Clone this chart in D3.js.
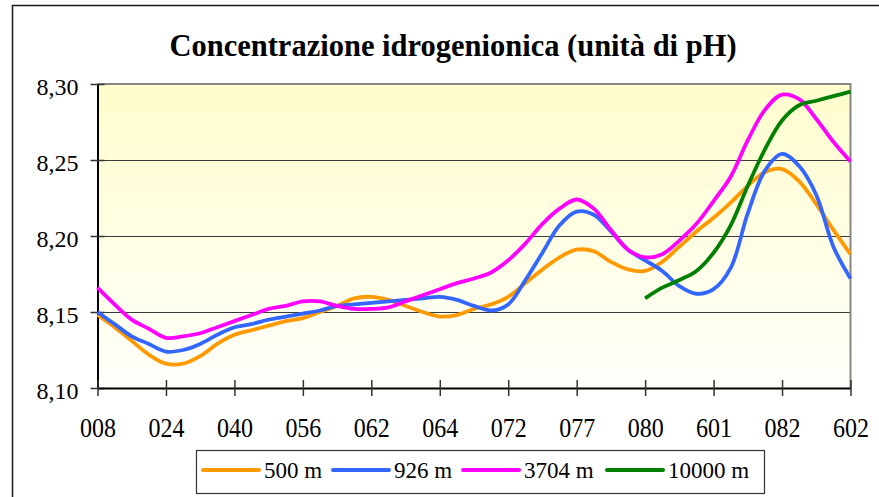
<!DOCTYPE html>
<html>
<head>
<meta charset="utf-8">
<script src="https://cdn.jsdelivr.net/npm/d3@7"></script>
<style>
  html, body { margin: 0; padding: 0; background: #ffffff; }
  svg { display: block; }
  text { font-family: "Liberation Serif", "Times New Roman", serif; }
</style>
</head>
<body>
<svg id="chart" width="879" height="497"></svg>
<script>
// ---- Data ----
const title = "Concentrazione idrogenionica (unità di pH)";
const stationLabels = ["008","024","040","056","062","064","072","077","080","601","082","602"];
const seriesNames = ["500 m","926 m","3704 m","10000 m"];
const seriesColors = ["#FF9900","#3366FF","#FF00FF","#008000"];
const yTicks = [8.10, 8.15, 8.20, 8.25, 8.30];

const values500 = [8.148,8.140,8.131,8.122,8.116,8.116,8.121,8.129,8.135,8.138,8.141,8.144,8.146,8.150,8.154,8.159,8.160,8.158,8.154,8.150,8.147,8.148,8.152,8.155,8.160,8.169,8.178,8.186,8.191,8.190,8.183,8.178,8.177,8.183,8.193,8.203,8.212,8.222,8.233,8.242,8.244,8.236,8.221,8.204,8.188];
const values926 = [8.150,8.142,8.134,8.129,8.124,8.125,8.129,8.135,8.140,8.142,8.145,8.147,8.149,8.151,8.154,8.155,8.156,8.157,8.158,8.159,8.160,8.158,8.154,8.151,8.155,8.171,8.189,8.207,8.216,8.214,8.203,8.191,8.184,8.177,8.167,8.162,8.165,8.179,8.215,8.243,8.254,8.246,8.227,8.193,8.172];
const values3704 = [8.166,8.155,8.145,8.139,8.133,8.134,8.136,8.140,8.144,8.148,8.152,8.154,8.157,8.157,8.154,8.152,8.152,8.153,8.157,8.161,8.165,8.169,8.172,8.176,8.184,8.195,8.208,8.218,8.224,8.218,8.204,8.191,8.186,8.188,8.197,8.208,8.223,8.239,8.263,8.283,8.293,8.290,8.277,8.262,8.249];
const values10000 = [null,null,null,null,null,null,null,null,null,null,null,null,null,null,null,null,null,null,null,null,null,null,null,null,null,null,null,null,null,null,null,null,8.159,8.166,8.171,8.177,8.189,8.207,8.233,8.257,8.276,8.286,8.289,8.292,8.295];

const allSeries = [values500, values926, values3704, values10000];

// ---- Layout ----
const FONT = '"Liberation Serif", "Times New Roman", serif';
const svg = d3.select("#chart");
const plot = { left: 97.5, right: 850.5, top: 84, bottom: 388 };
const n = values500.length;
const samplesPerLabel = (n - 1) / (stationLabels.length - 1);

const x = d3.scaleLinear().domain([0, n - 1]).range([plot.left, plot.right]);
const y = d3.scaleLinear().domain([8.10, 8.30]).range([plot.bottom, plot.top]);

// outer chart border (extends past the window)
svg.append("rect")
  .attr("x", 12.5).attr("y", 5.5)
  .attr("width", 900).attr("height", 520)
  .attr("fill", "#ffffff")
  .attr("stroke", "#1a1a1a").attr("stroke-width", 1.5);

// title
svg.append("text")
  .attr("x", 453).attr("y", 56)
  .attr("text-anchor", "middle")
  .style("font-family", FONT)
  .style("font-weight", "bold")
  .style("font-size", "30.5px")
  .attr("fill", "#000")
  .text(title);

// plot background gradient
const defs = svg.append("defs");
const grad = defs.append("linearGradient").attr("id", "bg")
  .attr("x1", 0).attr("y1", 0).attr("x2", 0).attr("y2", 1);
grad.append("stop").attr("offset", "0%").attr("stop-color", "#FFFDCC");
grad.append("stop").attr("offset", "100%").attr("stop-color", "#FFFFFB");

svg.append("rect")
  .attr("x", plot.left).attr("y", plot.top)
  .attr("width", plot.right - plot.left).attr("height", plot.bottom - plot.top)
  .attr("fill", "url(#bg)");

// gridlines
svg.append("g")
  .selectAll("line")
  .data(yTicks.filter(t => t > 8.10 && t < 8.30))
  .join("line")
  .attr("x1", plot.left).attr("x2", plot.right)
  .attr("y1", d => Math.round(y(d)) + 0.5).attr("y2", d => Math.round(y(d)) + 0.5)
  .attr("stroke", "#3a3a3a").attr("stroke-width", 1);

// top and right plot border (gray)
svg.append("path")
  .attr("d", `M${plot.left},${plot.top}H${plot.right}V${plot.bottom}`)
  .attr("fill", "none").attr("stroke", "#858585").attr("stroke-width", 2);

// y axis
const yAxis = d3.axisLeft(y)
  .tickValues(yTicks)
  .tickSizeInner(7).tickSizeOuter(0)
  .tickPadding(12)
  .tickFormat(d => d3.format(".2f")(d).replace(".", ","));
const gy = svg.append("g").attr("transform", `translate(${plot.left},0)`).call(yAxis);
gy.attr("font-family", null).attr("font-size", null);
gy.select(".domain").attr("stroke", "#000").attr("stroke-width", 2);
gy.selectAll(".tick line").attr("stroke", "#333").attr("stroke-width", 1.5).attr("x2", 7).attr("x1", -7);
gy.selectAll(".tick text")
  .style("font-family", FONT)
  .style("font-size", "24px").attr("fill", "#000")
  .attr("dy", "0.45em");

// x axis
const xAxis = d3.axisBottom(x)
  .tickValues(stationLabels.map((_, i) => i * samplesPerLabel))
  .tickSizeInner(8).tickSizeOuter(0)
  .tickPadding(30)
  .tickFormat((d, i) => stationLabels[i]);
const gx = svg.append("g").attr("transform", `translate(0,${plot.bottom})`).call(xAxis);
gx.attr("font-family", null).attr("font-size", null);
gx.select(".domain").attr("stroke", "#000").attr("stroke-width", 2);
gx.selectAll(".tick line").attr("stroke", "#333").attr("stroke-width", 1.5).attr("y1", -8).attr("y2", 8);
gx.selectAll(".tick text")
  .style("font-family", FONT)
  .style("font-size", "24px").attr("fill", "#000")
  .attr("y", 0).attr("dy", 0)
  .attr("transform", "translate(0,48.5) scale(1,1.13)");

// lines
const line = d3.line()
  .defined(d => d != null)
  .x((d, i) => x(i))
  .y(d => y(d))
  .curve(d3.curveCatmullRom.alpha(0.5));

svg.append("g")
  .selectAll("path")
  .data(allSeries)
  .join("path")
  .attr("d", d => line(d))
  .attr("fill", "none")
  .attr("stroke", (d, i) => seriesColors[i])
  .attr("stroke-width", 3.8)
  .attr("stroke-linejoin", "round")
  .attr("stroke-linecap", "butt");

// legend
const legend = svg.append("g");
legend.append("rect")
  .attr("x", 196.5).attr("y", 450.5)
  .attr("width", 568).attr("height", 43)
  .attr("fill", "#fff").attr("stroke", "#333").attr("stroke-width", 1.2);

const legendX = [203, 333, 463, 607];
seriesNames.forEach((name, i) => {
  legend.append("line")
    .attr("x1", legendX[i]).attr("x2", legendX[i] + 56)
    .attr("y1", 470).attr("y2", 470)
    .attr("stroke", seriesColors[i]).attr("stroke-width", 4)
    .attr("stroke-linecap", "round");
  legend.append("text")
    .attr("x", legendX[i] + 61).attr("y", 477.5)
    .style("font-family", FONT)
    .style("font-size", "23px").attr("fill", "#000")
    .text(name);
});
</script>
</body>
</html>
